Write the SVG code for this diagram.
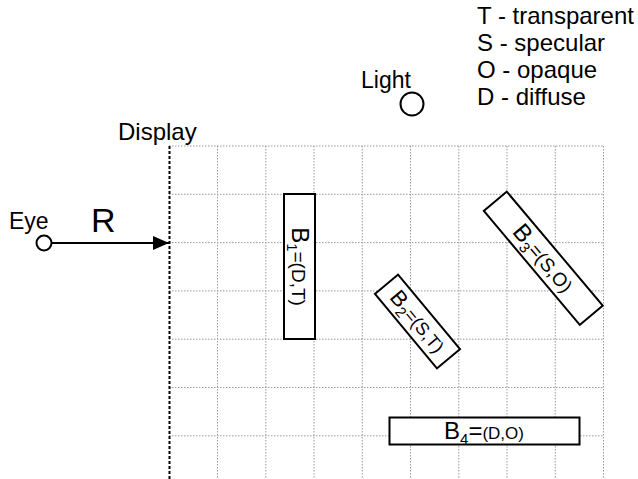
<svg xmlns="http://www.w3.org/2000/svg" width="638" height="479" viewBox="0 0 638 479">
<style>
text{font-family:"Liberation Sans",Arial,sans-serif;fill:#000}
.lbl{font-size:22px}
.leg{font-size:24px}
.grid line{stroke:#9a9a9a;stroke-width:1;stroke-dasharray:1.5,1.5}
.box{fill:#fff;stroke:#000;stroke-width:2}
.big{font-size:24px}
.sub{font-size:15px}
.rest{font-size:19px}
</style>
<defs>
<marker id="ah" markerWidth="16" markerHeight="14" refX="16" refY="7" orient="auto" markerUnits="userSpaceOnUse">
<path d="M0,0 L16,7 L0,14 Z" fill="#000"/>
</marker>
</defs>
<rect width="638" height="479" fill="#fff"/>
<g id="grid" class="grid">
<line x1="217.5" y1="146" x2="217.5" y2="479"/>
<line x1="265.8" y1="146" x2="265.8" y2="479"/>
<line x1="314" y1="146" x2="314" y2="479"/>
<line x1="362.3" y1="146" x2="362.3" y2="479"/>
<line x1="410.5" y1="146" x2="410.5" y2="479"/>
<line x1="458.8" y1="146" x2="458.8" y2="479"/>
<line x1="507" y1="146" x2="507" y2="479"/>
<line x1="555.3" y1="146" x2="555.3" y2="479"/>
<line x1="603.5" y1="146" x2="603.5" y2="479"/>
<line x1="169" y1="146" x2="604" y2="146"/>
<line x1="169" y1="194.3" x2="604" y2="194.3"/>
<line x1="169" y1="242.6" x2="604" y2="242.6"/>
<line x1="169" y1="290.9" x2="604" y2="290.9"/>
<line x1="169" y1="339.2" x2="604" y2="339.2"/>
<line x1="169" y1="387.5" x2="604" y2="387.5"/>
<line x1="169" y1="435.8" x2="604" y2="435.8"/>
</g>
<g id="display">
<line x1="169.5" y1="146" x2="169.5" y2="479" stroke="#000" stroke-width="2" stroke-dasharray="3,2"/>
<text class="leg" x="118" y="140">Display</text>
</g>
<g id="connectors">
<line x1="51.5" y1="243" x2="169" y2="243" stroke="#000" stroke-width="2" marker-end="url(#ah)"/>
<text x="91" y="232" style="font-size:34px">R</text>
</g>
<g id="eye">
<circle cx="44" cy="243" r="7.5" fill="#fff" stroke="#000" stroke-width="2"/>
<text class="lbl" x="9" y="229" style="font-size:23px">Eye</text>
</g>
<g id="light">
<circle cx="412" cy="104" r="11.5" fill="#fff" stroke="#000" stroke-width="2"/>
<text class="lbl" x="361" y="88" style="font-size:23px">Light</text>
</g>
<g id="legend">
<text class="leg" x="477" y="24">T - transparent</text>
<text class="leg" x="477" y="51">S - specular</text>
<text class="leg" x="477" y="78">O - opaque</text>
<text class="leg" x="477" y="105">D - diffuse</text>
</g>
<g id="b1" transform="translate(299.5,266.5) rotate(90)">
<rect class="box" x="-72.5" y="-15.5" width="145" height="31"/>
<text text-anchor="middle" y="7.5"><tspan class="big">B</tspan><tspan class="sub" dy="5">1</tspan><tspan class="rest" dy="-5">=(D,T)</tspan></text>
</g>
<g id="b2" transform="translate(417.5,321.5) rotate(50.3)">
<rect class="box" x="-48.5" y="-15" width="97" height="30"/>
<text text-anchor="middle" y="7"><tspan class="big" style="font-size:22px">B</tspan><tspan class="sub" dy="5">2</tspan><tspan class="rest" dy="-5" style="font-size:18px">=(S,T)</tspan></text>
</g>
<g id="b3" transform="translate(543.3,258.3) rotate(49.9)">
<rect class="box" x="-74.5" y="-15" width="149" height="30"/>
<text text-anchor="middle" y="7.5"><tspan class="big">B</tspan><tspan class="sub" dy="5">3</tspan><tspan class="rest" dy="-5">=(S,O)</tspan></text>
</g>
<g id="b4">
<rect class="box" x="389.5" y="417.5" width="190" height="27"/>
<text text-anchor="middle" x="484" y="439"><tspan class="big">B</tspan><tspan class="sub" dy="5">4</tspan><tspan class="big" dy="-5">=</tspan><tspan class="rest" style="font-size:17px">(D,O)</tspan></text>
</g>
</svg>
